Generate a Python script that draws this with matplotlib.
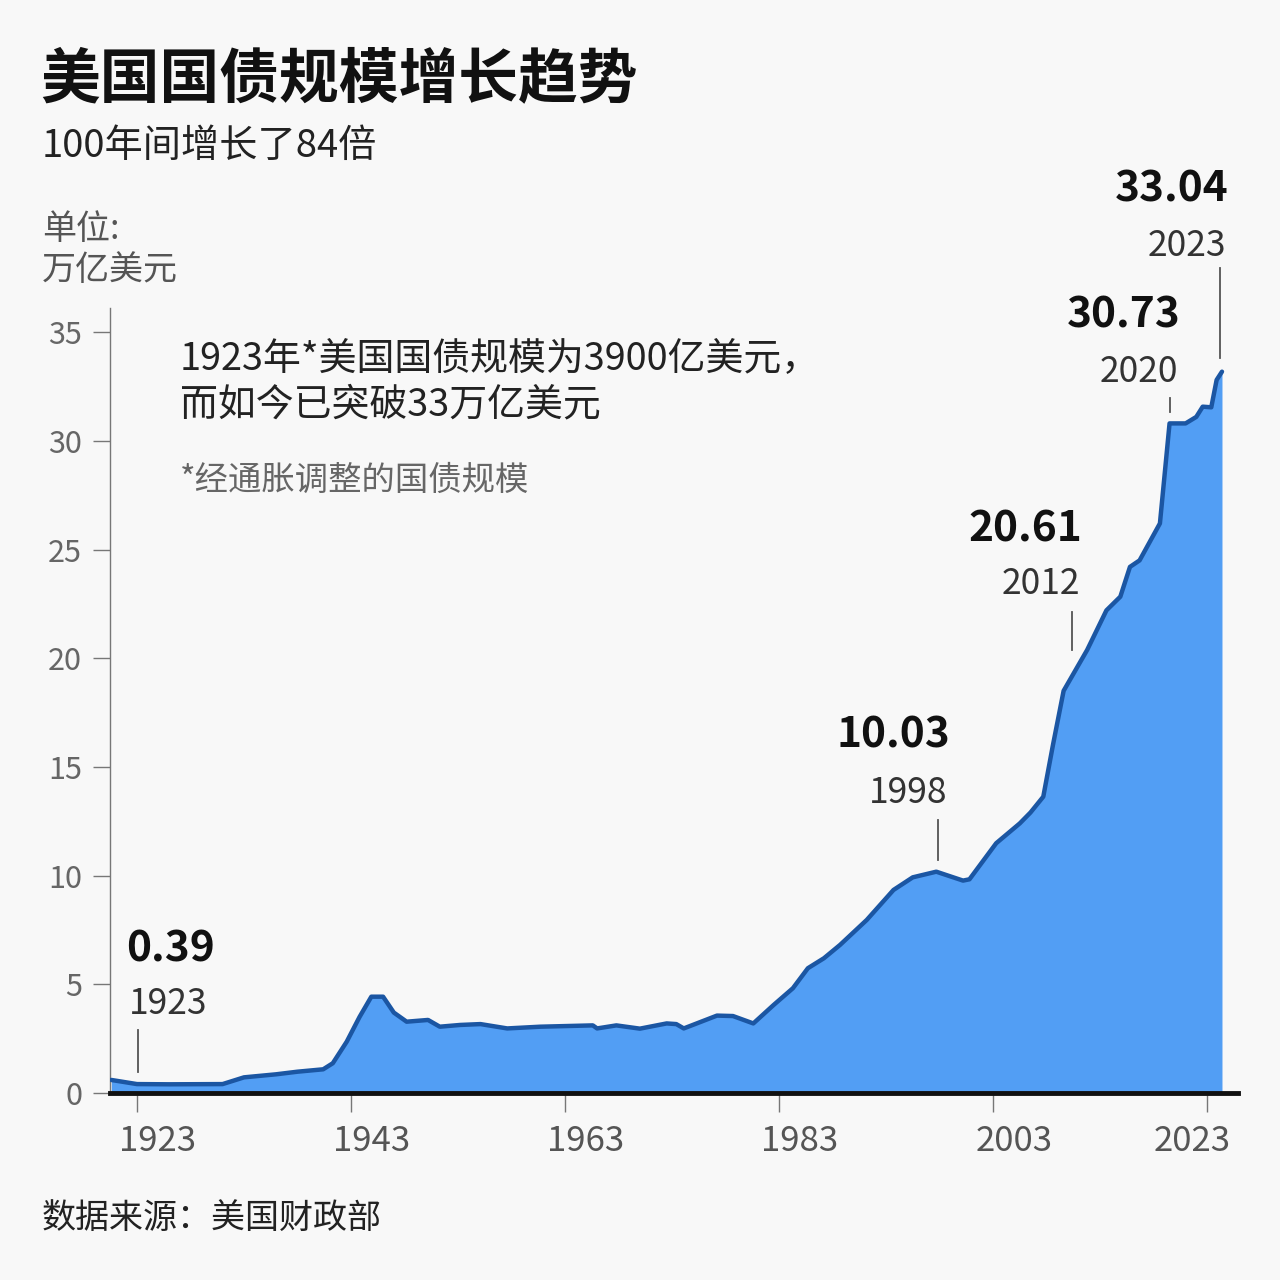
import matplotlib
matplotlib.use("Agg")
import matplotlib.pyplot as plt
import matplotlib.transforms as mtrans

plt.rcParams['font.family'] = ['Noto Sans CJK SC', 'DejaVu Sans']

# ---- data ----
years = [1920.6, 1923, 1926, 1931, 1933, 1936, 1938, 1940.4, 1941.3, 1942.6,
         1943.8, 1944.9, 1946, 1947, 1948.2, 1950.2, 1951.3, 1953.2, 1955.1, 1957.6,
         1960.7, 1965.6, 1966, 1967.8, 1970, 1972.5, 1973.4, 1974.1, 1977.2, 1978.7,
         1980.6, 1982.5, 1984.3, 1985.7, 1987.2, 1988.7, 1991.2, 1993.7, 1995.5, 1997.7,
         2000.2, 2000.8, 2003.3, 2005.5, 2006.5, 2007.7, 2008.6, 2009.6, 2011.8, 2013.6,
         2014.9, 2015.8, 2016.7, 2018.6, 2019.5, 2021.0, 2022.0, 2022.6, 2023.4, 2023.9,
         2024.4]
debt = [0.6, 0.41, 0.40, 0.41, 0.72, 0.86, 0.98, 1.09, 1.37, 2.36,
        3.5, 4.43, 4.43, 3.7, 3.28, 3.36, 3.05, 3.13, 3.17, 2.97,
        3.05, 3.11, 2.97, 3.11, 2.96, 3.2, 3.17, 2.97, 3.56, 3.54,
        3.2, 4.05, 4.82, 5.74, 6.2, 6.81, 7.96, 9.34, 9.92, 10.18,
        9.77, 9.83, 11.49, 12.4, 12.9, 13.63, 16.0, 18.5, 20.38, 22.2,
        22.83, 24.2, 24.5, 26.2, 30.8, 30.8, 31.1, 31.57, 31.54, 32.8,
        33.18]

ann_values = ["0.39", "10.03", "20.61", "30.73", "33.04"]
ann_years = ["1923", "1998", "2012", "2020", "2023"]
ann_line_x = [1923.1, 1997.9, 2010.4, 2019.5, 2024.2]

x_ticks = [1923, 1943, 1963, 1983, 2003, 2023]
y_ticks = [0, 5, 10, 15, 20, 25, 30, 35]

title = "美国国债规模增长趋势"
subtitle = "100年间增长了84倍"
unit = "单位:\n万亿美元"
note1 = "1923年*美国国债规模为3900亿美元，\n而如今已突破33万亿美元"
note2 = "*经通胀调整的国债规模"
source = "数据来源：美国财政部"

# ---- figure ----
W = H = 1280
bg = '#f8f8f8'
fig = plt.figure(figsize=(12.8, 12.8), dpi=100, facecolor=bg)

def P(x, y):
    return (x / W, 1 - y / H)

ax_l, ax_r, ax_b, ax_t = 110, 1238, 1093, 308
ax = fig.add_axes([ax_l / W, 1 - ax_b / H, (ax_r - ax_l) / W, (ax_b - ax_t) / H])
ax.set_facecolor('none')

x0 = 1923 + (ax_l - 137) / 10.7
x1 = 1923 + (ax_r - 137) / 10.7
ax.set_xlim(x0, x1)
ax.set_ylim(0, (ax_b - ax_t) / 21.74)

fill_c = '#529ef4'
edge_c = '#1b56a3'
ax.fill_between(years, debt, 0, color=fill_c, lw=0, zorder=2)
ax.plot(years, debt, color=edge_c, lw=3.2, solid_joinstyle='round',
        solid_capstyle='round', zorder=3)

for s in ['top', 'right']:
    ax.spines[s].set_visible(False)
ax.spines['left'].set_color('#777777')
ax.spines['left'].set_linewidth(1.0)
ax.spines['bottom'].set_color('#111111')
ax.spines['bottom'].set_linewidth(3.5)
ax.spines['bottom'].set_zorder(4)

ax.set_xticks(x_ticks)
ax.set_xticklabels([str(t) for t in x_ticks])
ax.set_yticks(y_ticks)
ax.set_yticklabels([str(t) for t in y_ticks])
ax.tick_params(axis='x', direction='out', length=14, width=1.0, color='#777777',
               pad=8, labelsize=25, labelcolor='#555555')
ax.tick_params(axis='y', direction='out', length=12, width=1.0, color='#777777',
               pad=8, labelsize=22, labelcolor='#666666')
for lab in ax.get_xticklabels() + ax.get_yticklabels():
    lab.set_fontweight('light')

dxs = [21, 21, 21, 21, 21, -15]
for lab, dx in zip(ax.get_xticklabels(), dxs):
    lab.set_transform(lab.get_transform() +
                      mtrans.ScaledTranslation(dx / 100, 0, fig.dpi_scale_trans))

# ---- annotations ----
def v(py):
    return (ax_b - py) / 21.74

line_spans = [(1030, 1072), (820, 860), (612, 650), (398, 412), (268, 358)]
for lx, (ya, yb) in zip(ann_line_x, line_spans):
    ax.plot([lx, lx], [v(ya), v(yb)], color='#555555', lw=1.3, clip_on=False, zorder=5)

val_pos = [(170, 950), (893, 736), (1025, 530), (1124, 316), (1172, 190)]
yr_pos = [(168, 1004), (908, 793), (1041, 584), (1139, 372), (1187, 246)]
for t, (px, py) in zip(ann_values, val_pos):
    fig.text(*P(px, py), t, ha='center', va='center', fontsize=30.5,
             fontweight='bold', color='#111111')
for t, (px, py) in zip(ann_years, yr_pos):
    fig.text(*P(px, py), t, ha='center', va='center', fontsize=25.5,
             fontweight='light', color='#333333')

# ---- texts ----
fig.text(*P(40, 80), title, ha='left', va='center', fontsize=43,
         fontweight='heavy', color='#111111')
fig.text(*P(42, 146), subtitle, ha='left', va='center', fontsize=27.5,
         color='#222222')
fig.text(*P(42, 250), unit, ha='left', va='center', fontsize=24.5,
         fontweight='light', color='#555555', linespacing=1.2)
fig.text(*P(180, 382), note1, ha='left', va='center', fontsize=27.3,
         color='#222222', linespacing=1.25)
fig.text(*P(180, 480), note2, ha='left', va='center', fontsize=24,
         fontweight='light', color='#666666')
fig.text(*P(42, 1218), source, ha='left', va='center', fontsize=24.5,
         color='#222222')

fig.savefig('out.png', dpi=100, facecolor=bg)
